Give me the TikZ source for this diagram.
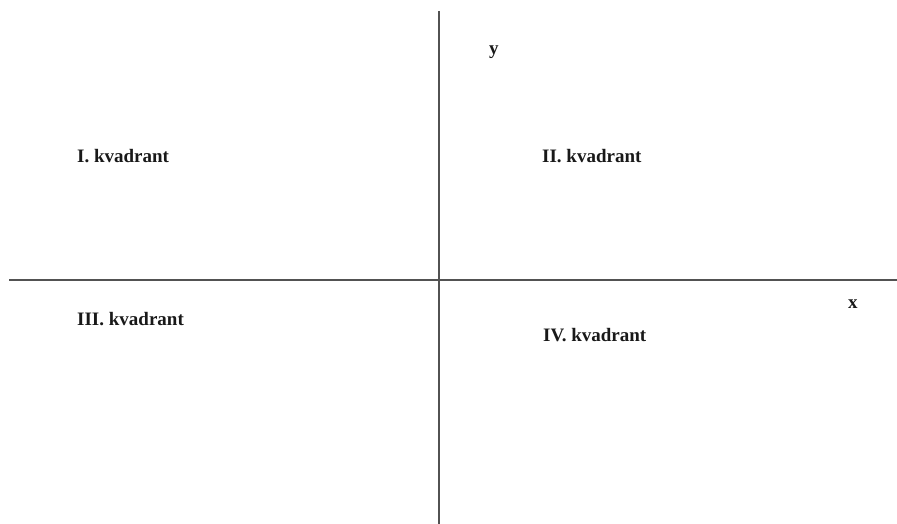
\documentclass[tikz,border=0pt]{standalone}
\usepackage{fontspec}
\setmainfont{Liberation Serif}
\begin{document}
\begin{tikzpicture}[x=1pt,y=-1pt,
  axis/.style={draw=black!68, line width=1.8pt},
  lbl/.style={font=\fontsize{19}{22}\selectfont\bfseries, anchor=base west, inner sep=0pt, text=black!90}]
\useasboundingbox (0,0) rectangle (897,524);
\coordinate (vtop) at (439,11);
\coordinate (vbot) at (439,524);
\coordinate (hl) at (9,280);
\coordinate (hr) at (897,280);
\draw[axis] (vtop) -- (vbot);
\draw[axis] (hl) -- (hr);
\node[lbl] (q1) at (77,163) {I. kvadrant};
\node[lbl] (q2) at (542,163) {II. kvadrant};
\node[lbl] (q3) at (77,325) {III. kvadrant};
\node[lbl] (q4) at (543,341) {IV. kvadrant};
\node[lbl] (ylab) at (489,55) {y};
\node[lbl] (xlab) at (848,308) {x};
\end{tikzpicture}
\end{document}
